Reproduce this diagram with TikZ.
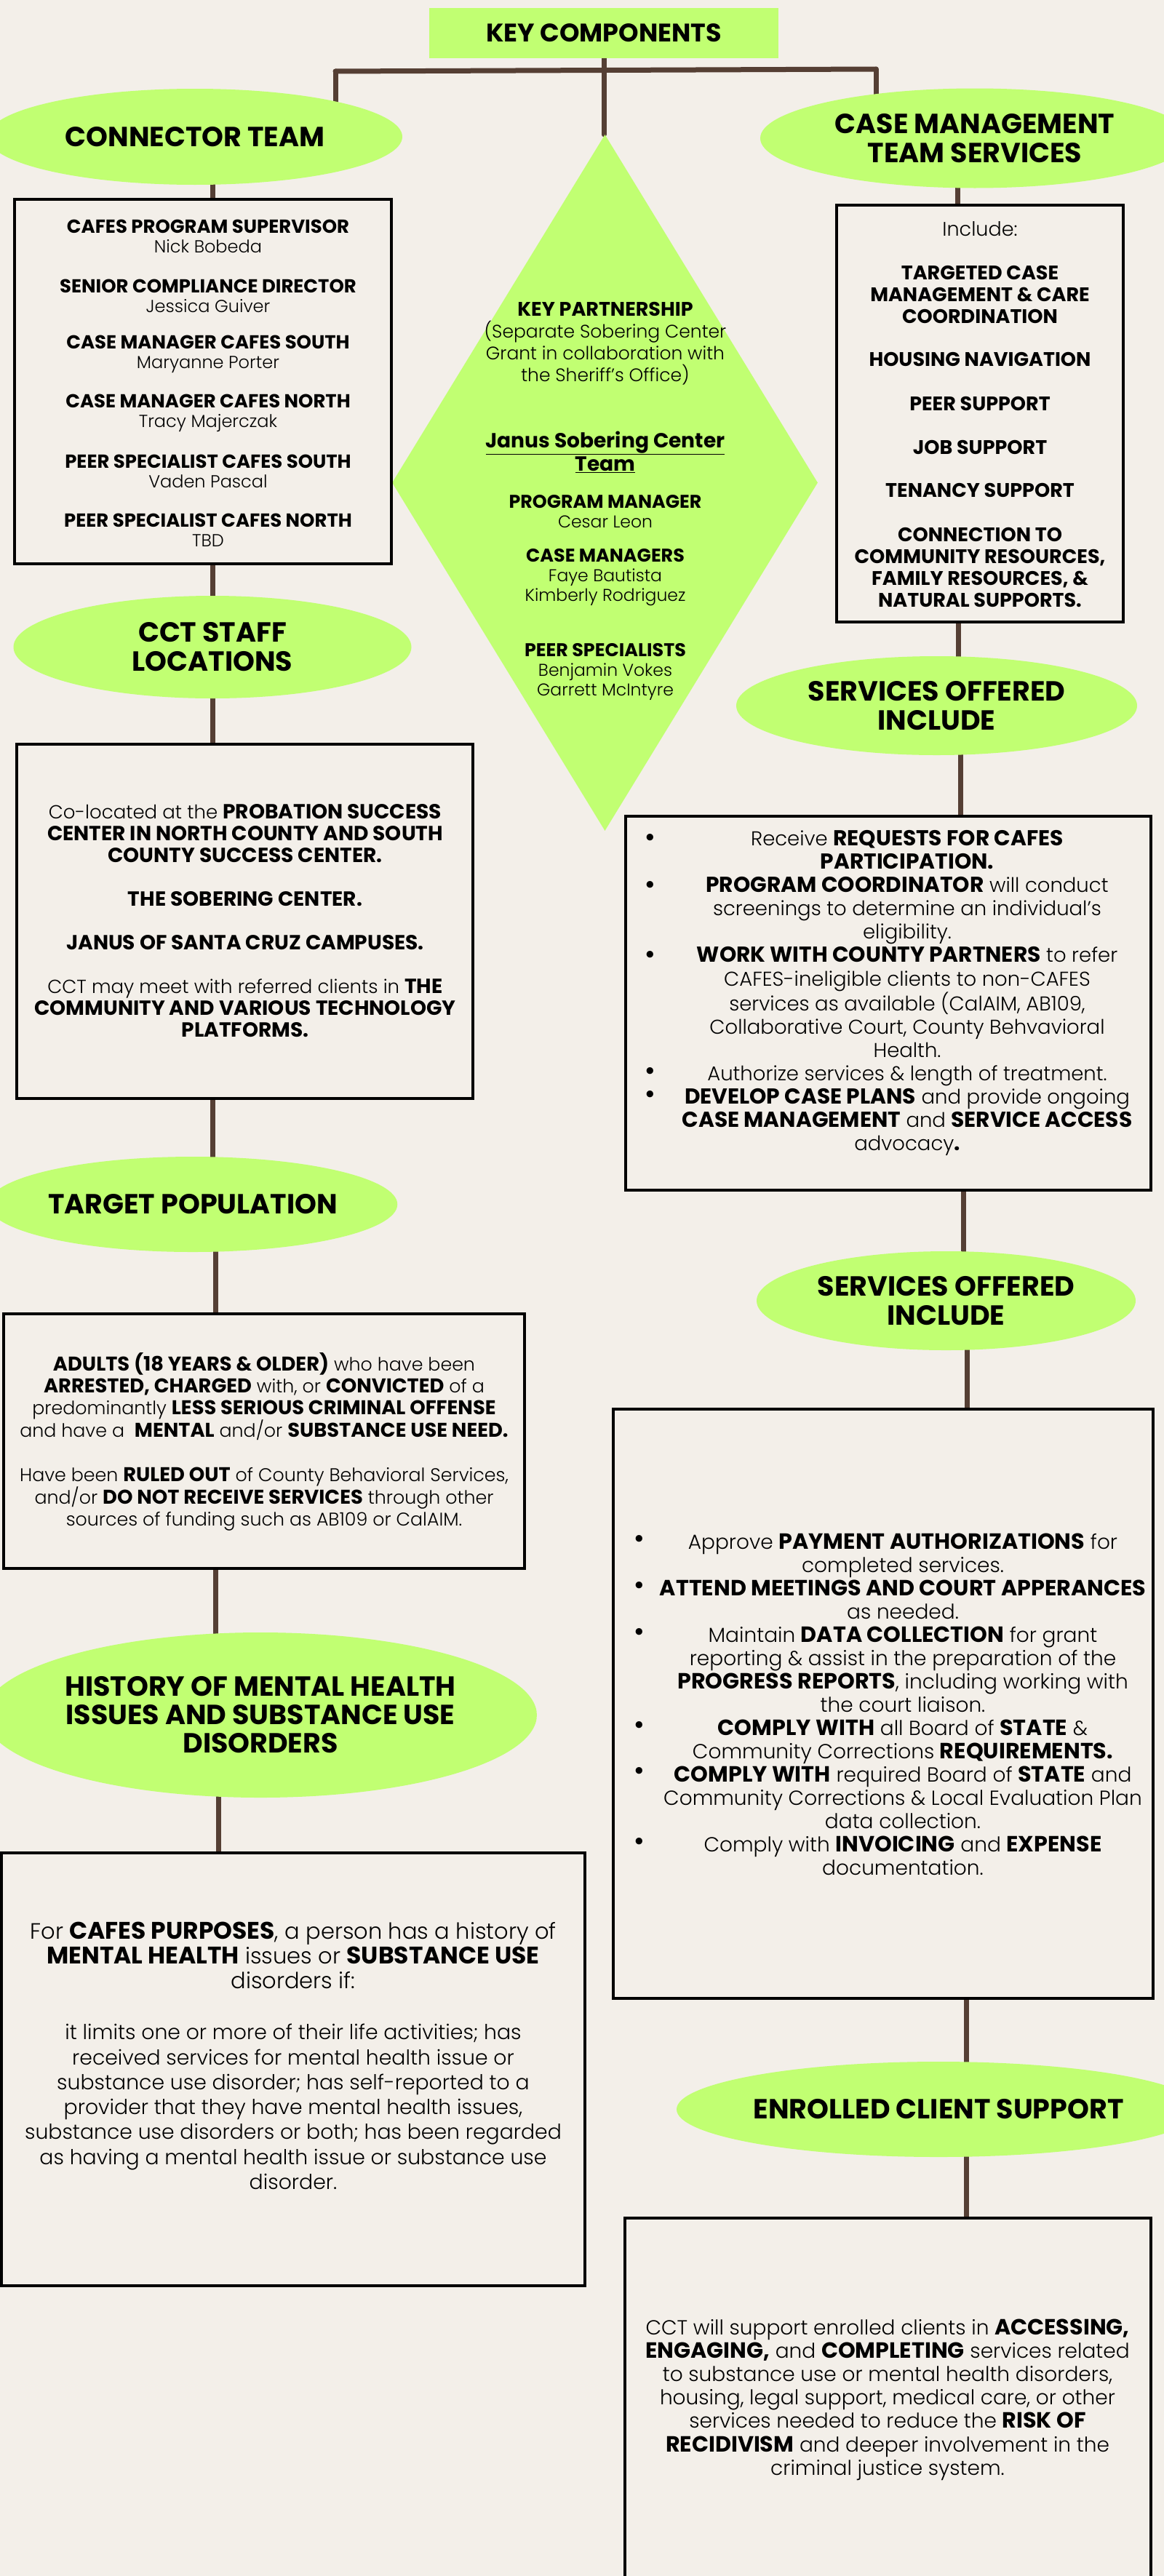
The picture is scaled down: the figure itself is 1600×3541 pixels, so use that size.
\documentclass[tikz,border=0pt]{standalone}
\usepackage{fontspec}
\IfFontExistsTF{Poppins Light}{%
  \IfFontExistsTF{Poppins Bold}{%
    \setmainfont{Poppins Light}[BoldFont={Poppins Bold}, BoldFeatures={Scale=1.08}]%
  }{\setmainfont{Poppins}[BoldFeatures={Scale=1.08}]}%
}{\setmainfont{Poppins}[BoldFeatures={Scale=1.08}]}
\usetikzlibrary{shapes.geometric}
\definecolor{bgbeige}{HTML}{F3EFE9}
\definecolor{kgreen}{HTML}{C1FF72}
\definecolor{kbrown}{HTML}{553F34}
\pgfdeclarelayer{bgfill}
\pgfdeclarelayer{lines}
\pgfsetlayers{bgfill,lines,main}
\newcommand\fsz[2]{\fontsize{#1}{#2}\selectfont}
\begin{document}
\begin{tikzpicture}[x=1pt,y=-1pt,
  conn/.style={draw=kbrown, line width=7pt, line cap=round},
  ell/.style={ellipse, fill=kgreen, inner sep=0pt, align=center, font=\fsz{35.2}{40}\bfseries},
  frame/.style={rectangle, draw=black, line width=4.5pt, fill=none, inner sep=0pt},
  txt/.style={align=center, inner sep=0pt},
  ctx/.style={txt, font=\fsz{24}{27}},
  cmx/.style={txt, font=\fsz{25}{30}\bfseries},
  bul/.style={inner sep=0pt, font=\fsz{40}{40}}
]
\useasboundingbox (0,0) rectangle (1600,3541);
\begin{pgfonlayer}{bgfill}
\fill[bgbeige] (0,0) rectangle (1600,3541);
\end{pgfonlayer}
\clip (0,0) rectangle (1600,3541);

% ---------- top ----------
\node[rectangle, fill=kgreen, minimum width=480pt, minimum height=69pt, inner sep=0pt, font=\fsz{32.4}{40}\bfseries] (kc) at (830,45.5) {KEY COMPONENTS};
\coordinate (barL) at (461,98);
\coordinate (barR) at (1204,95);

\node[ell, minimum width=570pt, minimum height=132pt] (lct) at (268,188) {CONNECTOR TEAM};
\node[ell, minimum width=590pt, minimum height=137pt] (rct) at (1340,190) {CASE MANAGEMENT\\TEAM SERVICES};
\node[diamond, fill=kgreen, inner sep=0pt, minimum width=585pt, minimum height=957pt] (dm) at (831.5,663.5) {};

% ---------- connector team box ----------
\node[frame, minimum width=518pt, minimum height=501pt] (ctbox) at (279,524.5) {};
\node[ctx] (p1) at (286,325) {{\bfseries CAFES PROGRAM SUPERVISOR}\\Nick Bobeda};
\node[ctx] (p2) at (286,407) {{\bfseries SENIOR COMPLIANCE DIRECTOR}\\Jessica Guiver};
\node[ctx] (p3) at (286,487) {{\bfseries CASE MANAGER CAFES SOUTH}\\Maryanne Porter};
\node[ctx] (p4) at (286,568) {{\bfseries CASE MANAGER CAFES NORTH}\\Tracy Majerczak};
\node[ctx] (p5) at (286,648) {{\bfseries PEER SPECIALIST CAFES SOUTH}\\Vaden Pascal};
\node[ctx] (p6) at (286,729) {{\bfseries PEER SPECIALIST CAFES NORTH}\\TBD};

% ---------- diamond text ----------
\node[txt, font=\fsz{25}{30}] (d1) at (832,472) {{\bfseries KEY PARTNERSHIP}\\(Separate Sobering Center\\Grant in collaboration with\\the Sheriff’s Office)};
\node[txt, font=\fsz{26}{32}\bfseries] (d2) at (832,621) {\underline{Janus Sobering Center}\\\underline{Team}};
\node[txt, font=\fsz{23.5}{26.5}] (d3) at (832,703) {{\bfseries PROGRAM MANAGER}\\Cesar Leon};
\node[txt, font=\fsz{23.5}{27}] (d4) at (832,794) {{\bfseries CASE MANAGERS}\\Faye Bautista\\Kimberly Rodriguez};
\node[txt, font=\fsz{23.5}{27}] (d5) at (832,923.5) {{\bfseries PEER SPECIALISTS}\\Benjamin Vokes\\Garrett McIntyre};

% ---------- case management box ----------
\node[frame, minimum width=394pt, minimum height=573pt] (cmsbox) at (1347,568.5) {};
\node[txt, font=\fsz{27}{30}] (cm1) at (1347,315) {Include:};
\node[cmx] (cm2) at (1347,404.5) {TARGETED CASE\\MANAGEMENT \& CARE\\COORDINATION};
\node[cmx] (cm3) at (1347,494) {HOUSING NAVIGATION};
\node[cmx] (cm4) at (1347,555) {PEER SUPPORT};
\node[cmx] (cm5) at (1347,615) {JOB SUPPORT};
\node[cmx] (cm6) at (1347,674) {TENANCY SUPPORT};
\node[cmx] (cm7) at (1347,780) {CONNECTION TO\\COMMUNITY RESOURCES,\\FAMILY RESOURCES, \&\\NATURAL SUPPORTS.};

% ---------- left column ----------
\node[ell, minimum width=547pt, minimum height=141pt] (cct) at (292,889.5) {CCT STAFF\\LOCATIONS};
\node[frame, minimum width=627pt, minimum height=487pt] (cctbox) at (336.5,1266.5) {};
\node[txt, font=\fsz{26}{30}] (cctt) at (337,1266) {Co-located at the {\bfseries PROBATION SUCCESS}\\{\bfseries CENTER IN NORTH COUNTY AND SOUTH}\\{\bfseries COUNTY SUCCESS CENTER.}\\[30pt]{\bfseries THE SOBERING CENTER.}\\[30pt]{\bfseries JANUS OF SANTA CRUZ CAMPUSES.}\\[30pt]CCT may meet with referred clients in {\bfseries THE}\\{\bfseries COMMUNITY AND VARIOUS TECHNOLOGY}\\{\bfseries PLATFORMS.}};

\node[ell, minimum width=560pt, minimum height=131pt] (tp) at (265,1655.5) {TARGET POPULATION};
\node[frame, minimum width=716pt, minimum height=350pt] (tpbox) at (363,1981) {};
\node[txt, font=\fsz{25.3}{30}] (tpt) at (363,1982) {{\bfseries ADULTS (18 YEARS \& OLDER)} who have been\\{\bfseries ARRESTED, CHARGED} with, or {\bfseries CONVICTED} of a\\predominantly {\bfseries LESS SERIOUS CRIMINAL OFFENSE}\\and have a \ {\bfseries MENTAL} and/or {\bfseries SUBSTANCE USE NEED.}\\[31pt]Have been {\bfseries RULED OUT} of County Behavioral Services,\\and/or {\bfseries DO NOT RECEIVE SERVICES} through other\\sources of funding such as AB109 or CalAIM.};

\node[ell, minimum width=730pt, minimum height=227pt, font=\fsz{35.2}{39}\bfseries] (hist) at (358,2357.5) {HISTORY OF MENTAL HEALTH\\ISSUES AND SUBSTANCE USE\\DISORDERS};
\node[frame, minimum width=802pt, minimum height=595pt] (hbox) at (403,2844.5) {};
\node[txt, font=\fsz{30.5}{34.3}] (ht1) at (403,2688) {For {\bfseries CAFES PURPOSES}, a person has a history of\\{\bfseries MENTAL HEALTH} issues or {\bfseries SUBSTANCE USE}\\disorders if:};
\node[txt, font=\fsz{28.3}{34.3}] (ht2) at (403,2896) {it limits one or more of their life activities; has\\received services for mental health issue or\\substance use disorder; has self-reported to a\\provider that they have mental health issues,\\substance use disorders or both; has been regarded\\as having a mental health issue or substance use\\disorder.};

% ---------- right column ----------
\node[ell, minimum width=551pt, minimum height=136pt] (s1ell) at (1287.5,970) {SERVICES OFFERED\\INCLUDE};
\node[frame, minimum width=722pt, minimum height=514pt] (s1box) at (1221,1379) {};
\node[txt, font=\fsz{27.5}{32.15}] (s1t) at (1247,1365) {Receive {\bfseries REQUESTS FOR CAFES}\\{\bfseries PARTICIPATION.}\\{\bfseries PROGRAM COORDINATOR} will conduct\\screenings to determine an individual’s\\eligibility.\\{\bfseries WORK WITH COUNTY PARTNERS} to refer\\CAFES-ineligible clients to non-CAFES\\services as available (CalAIM, AB109,\\Collaborative Court, County Behvavioral\\Health.\\Authorize services \& length of treatment.\\{\bfseries DEVELOP CASE PLANS} and provide ongoing\\{\bfseries CASE MANAGEMENT} and {\bfseries SERVICE ACCESS}\\advocacy{\bfseries .}};
\node[bul] (b11) at (894,1156) {\textbullet};
\node[bul] (b12) at (894,1221) {\textbullet};
\node[bul] (b13) at (894,1317) {\textbullet};
\node[bul] (b14) at (894,1477) {\textbullet};
\node[bul] (b15) at (894,1509) {\textbullet};

\node[ell, minimum width=521pt, minimum height=136pt] (s2ell) at (1300.5,1788) {SERVICES OFFERED\\INCLUDE};
\node[frame, minimum width=742pt, minimum height=810pt] (s2box) at (1214,2342) {};
\node[txt, font=\fsz{28}{32}] (s2t) at (1241,2343) {Approve {\bfseries PAYMENT AUTHORIZATIONS} for\\completed services.\\{\bfseries ATTEND MEETINGS AND COURT APPERANCES}\\as needed.\\Maintain {\bfseries DATA COLLECTION} for grant\\reporting \& assist in the preparation of the\\{\bfseries PROGRESS REPORTS}, including working with\\the court liaison.\\{\bfseries COMPLY WITH} all Board of {\bfseries STATE} \&\\Community Corrections {\bfseries REQUIREMENTS.}\\{\bfseries COMPLY WITH} required Board of {\bfseries STATE} and\\Community Corrections \& Local Evaluation Plan\\data collection.\\Comply with {\bfseries INVOICING} and {\bfseries EXPENSE}\\documentation.};
\node[bul] (b21) at (879,2119) {\textbullet};
\node[bul] (b22) at (879,2183) {\textbullet};
\node[bul] (b23) at (879,2247) {\textbullet};
\node[bul] (b24) at (879,2375) {\textbullet};
\node[bul] (b25) at (879,2438) {\textbullet};
\node[bul] (b26) at (879,2535) {\textbullet};

\node[ell, minimum width=660pt, minimum height=131pt] (eell) at (1290,2899.5) {ENROLLED CLIENT SUPPORT};
\node[frame, minimum width=723pt, minimum height=600pt] (ebox) at (1220.5,3349) {};
\node[txt, font=\fsz{28}{32.2}] (et) at (1220,3298.5) {CCT will support enrolled clients in {\bfseries ACCESSING,}\\{\bfseries ENGAGING,} and {\bfseries COMPLETING} services related\\to substance use or mental health disorders,\\housing, legal support, medical care, or other\\services needed to reduce the {\bfseries RISK OF}\\{\bfseries RECIDIVISM} and deeper involvement in the\\criminal justice system.};

% ---------- connectors ----------
\begin{pgfonlayer}{lines}
\draw[conn] (kc.south) -- (kc.south |- dm.north);
\draw[conn] (barL) -- (barR);
\draw[conn] (barL) -- (barL |- lct.center);
\draw[conn] (barR) -- (barR |- rct.center);
\draw[conn] (lct.center -| 292,0) -- (ctbox.north -| 292,0);
\draw[conn] (rct.center -| 1316,0) -- (cmsbox.north -| 1316,0);
\draw[conn] (ctbox.south -| 292,0) -- (cct.center -| 292,0);
\draw[conn] (cct.center -| 292,0) -- (cctbox.north -| 292,0);
\draw[conn] (cctbox.south -| 292,0) -- (tp.center -| 292,0);
\draw[conn] (tp.center -| 296,0) -- (tpbox.north -| 296,0);
\draw[conn] (tpbox.south -| 296,0) -- (hist.center -| 296,0);
\draw[conn] (hist.center -| 300,0) -- (hbox.north -| 300,0);
\draw[conn] (cmsbox.south -| 1317,0) -- (s1ell.center -| 1317,0);
\draw[conn] (s1ell.center -| 1320,0) -- (s1box.north -| 1320,0);
\draw[conn] (s1box.south -| 1324,0) -- (s2ell.center -| 1324,0);
\draw[conn] (s2ell.center -| 1329,0) -- (s2box.north -| 1329,0);
\draw[conn] (s2box.south -| 1328,0) -- (eell.center -| 1328,0);
\draw[conn] (eell.center -| 1328,0) -- (ebox.north -| 1328,0);
\end{pgfonlayer}
\end{tikzpicture}
\end{document}
